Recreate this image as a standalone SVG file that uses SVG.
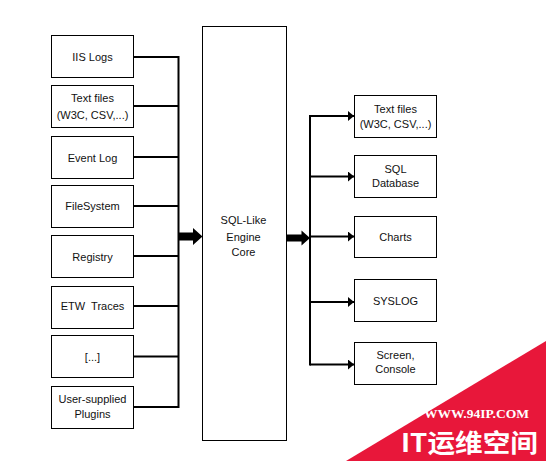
<svg xmlns="http://www.w3.org/2000/svg" width="546" height="461" viewBox="0 0 546 461">
<style>
.box{fill:#fff;stroke:#000;stroke-width:1}
.t{font-family:"Liberation Sans",Arial,sans-serif;font-size:11px;fill:#111;text-anchor:middle}
.ln{stroke:#000;stroke-width:2;fill:none}
.wm{fill:#fff;font-weight:bold}
</style>
<defs>
<marker id="ah" viewBox="0 0 6 10" refX="6" refY="5" markerWidth="6" markerHeight="10" markerUnits="userSpaceOnUse" orient="auto">
<path d="M0,0 L6,5 L0,10 Z" fill="#000"/>
</marker>
</defs>
<rect width="546" height="461" fill="#fff"/>
<g id="in-iis"><rect class="box" x="51.5" y="35.5" width="82" height="42"/><text class="t" x="92.5" y="60.5">IIS Logs</text></g>
<g id="in-text"><rect class="box" x="51.5" y="85.5" width="82" height="42"/><text class="t" x="92.5" y="102">Text files</text><text class="t" x="92.5" y="119">(W3C, CSV,...)</text></g>
<g id="in-event"><rect class="box" x="51.5" y="136.5" width="82" height="42"/><text class="t" x="92.5" y="161.5">Event Log</text></g>
<g id="in-fs"><rect class="box" x="51.5" y="185.5" width="82" height="42"/><text class="t" x="92.5" y="210">FileSystem</text></g>
<g id="in-reg"><rect class="box" x="51.5" y="235.5" width="82" height="42"/><text class="t" x="92.5" y="260.5">Registry</text></g>
<g id="in-etw"><rect class="box" x="51.5" y="286.5" width="82" height="42"/><text class="t" x="92.5" y="310" xml:space="preserve">ETW  Traces</text></g>
<g id="in-more"><rect class="box" x="51.5" y="335.5" width="82" height="42"/><text class="t" x="92.5" y="360.5">[...]</text></g>
<g id="in-plugins"><rect class="box" x="51.5" y="386.5" width="82" height="42"/><text class="t" x="92.5" y="403">User-supplied</text><text class="t" x="92.5" y="418">Plugins</text></g>
<g id="core"><rect class="box" x="202.5" y="26.5" width="84" height="414"/><text class="t" x="243.5" y="224">SQL-Like</text><text class="t" x="243.5" y="240.5">Engine</text><text class="t" x="243.5" y="255.5">Core</text></g>
<g id="out-text"><rect class="box" x="354.5" y="95.5" width="82" height="42"/><text class="t" x="395.5" y="113">Text files</text><text class="t" x="395.5" y="127.5">(W3C, CSV,...)</text></g>
<g id="out-sql"><rect class="box" x="354.5" y="155.5" width="82" height="42"/><text class="t" x="395.5" y="172.5">SQL</text><text class="t" x="395.5" y="187">Database</text></g>
<g id="out-charts"><rect class="box" x="354.5" y="216.5" width="82" height="41"/><text class="t" x="395.5" y="240.5">Charts</text></g>
<g id="out-syslog"><rect class="box" x="354.5" y="279.5" width="82" height="42"/><text class="t" x="395.5" y="305">SYSLOG</text></g>
<g id="out-screen"><rect class="box" x="354.5" y="342.5" width="82" height="42"/><text class="t" x="395.5" y="358.5">Screen,</text><text class="t" x="395.5" y="373">Console</text></g>
<g id="connectors">
<path class="ln" d="M133.5,57 H178.5 M133.5,106 H178.5 M133.5,157 H178.5 M133.5,206 H178.5 M133.5,256 H178.5 M133.5,306 H178.5 M133.5,356.5 H178.5 M133.5,407 H178.5 M178.5,56 V408"/>
<path d="M178.5,232.5 H193 V228 L202.5,236.5 L193,245 V240.5 H178.5 Z" fill="#000"/>
<path d="M287,234.5 H301.5 V230.5 L310,238 L301.5,245.5 V241.5 H287 Z" fill="#000"/>
<path class="ln" d="M310,115 V365.5"/>
<path class="ln" d="M310,116 H354" marker-end="url(#ah)"/>
<path class="ln" d="M310,176.5 H354" marker-end="url(#ah)"/>
<path class="ln" d="M310,236.5 H354" marker-end="url(#ah)"/>
<path class="ln" d="M310,302 H354" marker-end="url(#ah)"/>
<path class="ln" d="M310,364.5 H354" marker-end="url(#ah)"/>
</g>
<g id="watermark">
<path d="M346,461 L546,341 L546,461 Z" fill="#e8173a"/>
<text class="wm" x="424" y="418" font-family="'Liberation Serif','Times New Roman',serif" font-size="13" textLength="105" lengthAdjust="spacingAndGlyphs">WWW.94IP.COM</text>
<text class="wm" x="401" y="452" font-family="'Noto Sans CJK SC','Liberation Sans',sans-serif" font-size="25" textLength="137" lengthAdjust="spacingAndGlyphs">IT运维空间</text>
</g>
</svg>
